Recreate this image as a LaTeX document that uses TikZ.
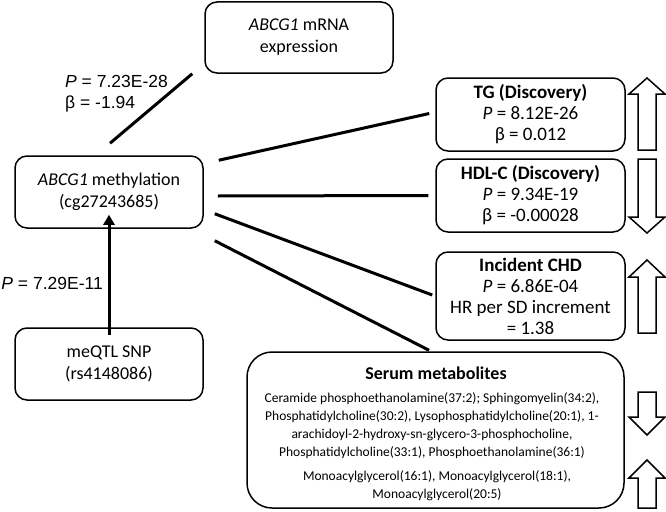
\documentclass[tikz,border=0pt]{standalone}
\usepackage{fontspec}
\setmainfont{Carlito}
\newfontfamily\labfont{Liberation Sans}
\usetikzlibrary{arrows.meta,calc}
\newcommand\blkarrow[4]{%
  \draw[barrow] (#1,#2) -- (#1+18,#3) -- (#1+9,#3) -- (#1+9,#4) -- (#1-9,#4) -- (#1-9,#3) -- (#1-18,#3) -- cycle;}
\begin{document}
\begin{tikzpicture}[x=1pt,y=-1pt,
  box/.style={draw, line width=1.5pt, rounded corners=12pt, align=center, inner sep=0pt,
    font=\fontsize{18}{22}\selectfont},
  rbox/.style={box, minimum width=189pt, minimum height=73pt, font=\fontsize{19}{21}\selectfont},
  conn/.style={line width=3pt},
  barrow/.style={draw, line width=1.5pt, fill=white, line join=miter},
  lbl/.style={inner sep=0pt, font=\labfont\fontsize{17.5}{21}\selectfont, align=left},
  small/.style={inner sep=0pt, align=center, font=\fontsize{13.5}{18}\selectfont}]
\useasboundingbox (0,0) rectangle (666,511);

% left column
\node[box, minimum width=188pt, minimum height=71pt] (mrna) at (299,37.5) {\textit{ABCG1} mRNA\\expression};
\node[box, minimum width=188pt, minimum height=72pt] (meth) at (109,192) {\textit{ABCG1} methylation\\(cg27243685)};
\node[box, minimum width=188pt, minimum height=72pt] (snp) at (109,364) {meQTL SNP\\(rs4148086)};

% right column
\node[rbox] (tg) at (530.5,114.5) {\textbf{TG (Discovery)}\\\textit{P} = 8.12E-26\\β = 0.012};
\node[rbox] (hdl) at (530.5,195.5) {\textbf{HDL-C (Discovery)}\\\textit{P} = 9.34E-19\\β = -0.00028};
\node[rbox, minimum height=88pt] (chd) at (530.5,296) {\textbf{Incident CHD}\\\textit{P} = 6.86E-04\\HR per SD increment\\= 1.38};
\node[box, rounded corners=25pt, minimum width=377pt, minimum height=156pt] (serum) at (435.5,430) {};
\node[inner sep=0pt, font=\fontsize{18}{22}\selectfont\bfseries] (sertitle) at (436,373) {Serum metabolites};
\node[small] (ser1) at (432,425.5) {Ceramide phosphoethanolamine(37:2); Sphingomyelin(34:2),\\
Phosphatidylcholine(30:2), Lysophosphatidylcholine(20:1), 1-\\
arachidoyl-2-hydroxy-sn-glycero-3-phosphocholine,\\
Phosphatidylcholine(33:1), Phosphoethanolamine(36:1)};
\node[small] (ser2) at (437,486) {Monoacylglycerol(16:1), Monoacylglycerol(18:1),\\Monoacylglycerol(20:5)};

% connectors
\draw[conn] ([shift={(1,-12)}]meth.north) -- ([shift={(-12,0)}]mrna.south west);
\draw[conn] ([shift={(15,5)}]meth.north east) -- ([shift={(-6,-1)}]tg.west);
\draw[conn] ([shift={(14,4)}]meth.east) -- ([shift={(-7,0)}]hdl.west);
\draw[conn] ([shift={(11,-15)}]meth.south east) -- ([shift={(-3,-1)}]chd.west);
\draw[conn] ([shift={(11,12)}]meth.south east) -- ([shift={(-6.5,-1)}]serum.north);
\draw[conn, -{Triangle[width=11pt,length=10pt]}] ([yshift=-8]snp.north) -- ([yshift=14]meth.south);

% labels
\node[lbl, anchor=west] (l1) at (65,81) {\textit{P} = 7.23E-28};
\node[lbl, anchor=west] (l2) at (65,104) {β = -1.94};
\node[lbl, anchor=east] (l3) at (103,283) {\textit{P} = 7.29E-11};

% block arrows
\blkarrow{647}{78}{94}{150}
\blkarrow{647}{233}{217}{159}
\blkarrow{647}{260}{277}{333}
\blkarrow{647}{435}{417}{392}
\blkarrow{647}{460}{478}{508}
\end{tikzpicture}
\end{document}
